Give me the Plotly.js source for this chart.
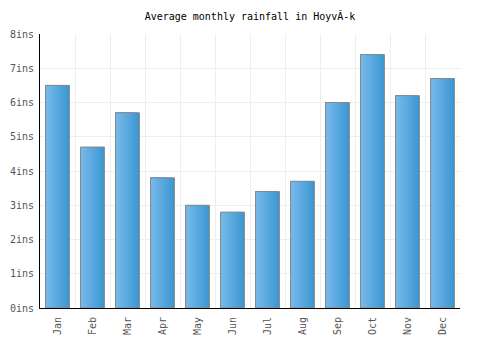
<!DOCTYPE html>
<html>
<head>
<meta charset="utf-8">
<script src="https://cdn.plot.ly/plotly-3.0.1.min.js"></script>
<style>html,body{margin:0;padding:0;background:#fff;}#chart{width:500px;height:350px;}</style>
</head>
<body>
<div id="chart"></div>
<script>
var months = ["Jan","Feb","Mar","Apr","May","Jun","Jul","Aug","Sep","Oct","Nov","Dec"];
var rainfall = [6.5, 4.7, 5.7, 3.8, 3.0, 2.8, 3.4, 3.7, 6.0, 7.4, 6.2, 6.7];
var titleText = "Average monthly rainfall in Hoyv\u00c3-k";

var barWidth = 0.68;
var steps = 12;
var dark = [60, 152, 210], light = [118, 185, 235];
var traces = [];
for (var k = 0; k < steps; k++) {
  var t = k / (steps - 1);
  var c = dark.map(function (d, i) { return Math.round(d + (light[i] - d) * t); });
  traces.push({
    type: "bar", x: months, y: rainfall,
    width: barWidth * (1 - k / steps), offset: -barWidth / 2,
    marker: { color: "rgb(" + c.join(",") + ")", line: { width: 0 } },
    hoverinfo: "skip", showlegend: false
  });
}
traces.push({
  type: "bar", x: months, y: rainfall, width: barWidth, offset: -barWidth / 2,
  marker: { color: "rgba(0,0,0,0)", line: { color: "#888888", width: 1 } },
  showlegend: false
});

var font = "DejaVu Sans Mono, monospace";
Plotly.newPlot("chart", traces, {
  width: 500, height: 350,
  margin: { l: 40, r: 40, t: 34, b: 42 },
  paper_bgcolor: "#fff", plot_bgcolor: "#fff",
  barmode: "overlay",
  title: { text: titleText, font: { family: font, size: 10, color: "#000" }, x: 0.5, xanchor: "center", y: 0.953, yanchor: "middle" },
  xaxis: {
    type: "category", tickson: "boundaries", ticklen: 0,
    tickangle: -90, tickfont: { family: font, size: 10, color: "#555" },
    showgrid: true, gridcolor: "#eeeeee", gridwidth: 1,
    showline: true, linecolor: "#000", linewidth: 1, ticks: "", ticklabelstandoff: 4
  },
  yaxis: {
    range: [0, 8], dtick: 1, ticksuffix: "ins",
    tickfont: { family: font, size: 10, color: "#555" },
    showgrid: true, gridcolor: "#eeeeee", gridwidth: 1,
    showline: true, linecolor: "#000", linewidth: 1, zeroline: false, ticks: "", ticklabelstandoff: 3
  }
}, { staticPlot: true });
</script>
</body>
</html>
